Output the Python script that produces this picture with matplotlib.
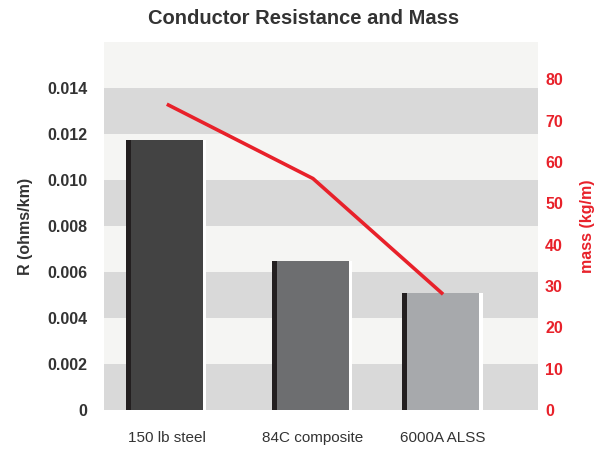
import matplotlib
matplotlib.use("Agg")
import matplotlib.pyplot as plt

plt.rcParams['font.family'] = ['Liberation Sans', 'DejaVu Sans']

categories = ["150 lb steel", "84C composite", "6000A ALSS"]
resistance = [0.01174, 0.00648, 0.00509]   # ohms/km
mass = [74, 56, 28]                         # kg/m
x_pos = [0, 1, 1.89]

bar_colors = ["#434343", "#6d6e70", "#a7a9ac"]
red = "#e8212a"
text_col = "#333333"

fig = plt.figure(figsize=(6.08, 4.49), dpi=100)
ax = fig.add_axes([0.171, 0.087, 0.714, 0.819])
ax.set_facecolor("#f5f5f3")

# horizontal bands
for lo in [0, 0.004, 0.008, 0.012]:
    ax.axhspan(lo, lo + 0.002, color="#d9d9d9", zorder=0, lw=0)

w = 0.49
off = 0.034
for x, r, c in zip(x_pos, resistance, bar_colors):
    ax.bar(x + 0.025, r, width=w, color="white", zorder=1)
    ax.bar(x - off, r + 0.00003, width=w, bottom=-0.00003, color="#231f20", zorder=2)
    ax.bar(x, r, width=w, color=c, zorder=3)

ax.set_xlim(-0.43, 2.54)
ax.set_ylim(0, 0.016)
ax.set_yticks([0, 0.002, 0.004, 0.006, 0.008, 0.010, 0.012, 0.014])
ax.set_yticklabels(["0", "0.002", "0.004", "0.006", "0.008", "0.010", "0.012", "0.014"])
ax.set_xticks(x_pos)
ax.set_xticklabels(categories)
ax.tick_params(axis="y", length=0, pad=12, labelsize=11.5, labelcolor=text_col)
ax.tick_params(axis="x", length=0, pad=15, labelsize=11, labelcolor=text_col)
for t in ax.get_yticklabels():
    t.set_fontweight("bold")
ax.set_ylabel("R (ohms/km)", fontsize=11.5, fontweight="bold", color=text_col, labelpad=10)
for s in ax.spines.values():
    s.set_visible(False)

ax2 = ax.twinx()
ax2.plot(x_pos, mass, color=red, lw=2.6, zorder=5, solid_capstyle="butt")
ax2.set_ylim(0, 89)
ax2.set_yticks(range(0, 90, 10))
ax2.tick_params(axis="y", length=0, pad=5, labelsize=11.5, labelcolor=red)
for t in ax2.get_yticklabels():
    t.set_fontweight("bold")
ax2.set_ylabel("mass (kg/m)", fontsize=11.5, fontweight="bold", color=red, labelpad=12)
for s in ax2.spines.values():
    s.set_visible(False)

fig.suptitle("Conductor Resistance and Mass", x=0.5, y=0.98, fontsize=14.5,
             fontweight="bold", color=text_col)

fig.savefig("out.png", dpi=100)
